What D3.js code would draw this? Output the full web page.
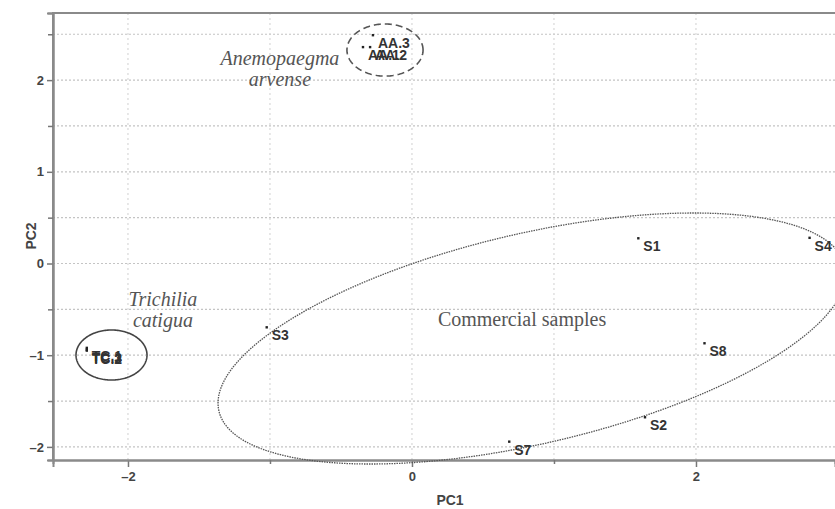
<!DOCTYPE html>
<html>
<head>
<meta charset="utf-8">
<script src="https://cdn.jsdelivr.net/npm/d3@7"></script>
<style>
  html, body { margin: 0; padding: 0; background: #fff; }
  svg { display: block; }
</style>
</head>
<body>
<svg id="chart" width="835" height="509"></svg>
<script>
// PCA scores (PC1, PC2) for each sample
const sampleNames = ["AA.1", "AA.2", "AA.3", "TC.1", "TC.2", "TC.3",
                     "S1", "S2", "S3", "S4", "S7", "S8"];
const pc1Scores = [-0.345, -0.295, -0.275, -2.29, -2.29, -2.29,
                   1.594, 1.641, -1.023, 2.80, 0.685, 2.06];
const pc2Scores = [2.36, 2.36, 2.49, -0.92, -0.95, -0.94,
                   0.275, -1.677, -0.696, 0.28, -1.943, -0.87];

// Axis ticks
const xMajorTicks = [-2, 0, 2];
const xMinorTicks = [-1, 1];
const yMajorTicks = [-2, -1, 0, 1, 2];
const yMinorTicks = [-1.5, -0.5, 0.5, 1.5, 2.5];
const xGridValues = [-2, -1, 0, 1, 2];
const yGridValues = [-2, -1.5, -1, -0.5, 0, 0.5, 1, 1.5, 2, 2.5];

// Group ellipses: centre, spread in PC1/PC2 units and correlation
const groupNames = ["Anemopaegma", "Trichilia", "Commercial"];
const groupCentreX = [-0.19, -2.116, 0.845];
const groupCentreY = [2.328, -0.998, -0.818];
const groupSpreadX = [0.268, 0.25, 2.211];
const groupSpreadY = [0.284, 0.273, 1.369];
const groupCorr = [0, 0, 0.515];

// Group captions (lines of text with their anchor in data units)
const captionLines = [["Anemopaegma", "arvense"], ["Trichilia", "catigua"], ["Commercial samples"]];
const captionX = [-0.93, -1.754, 0.775];
const captionY = [2.165, -0.463, -0.68];
const captionItalic = [true, true, false];

const svg = d3.select("#chart");
const x = d3.scaleLinear().domain([-2.528, 2.979]).range([53, 835]);
const y = d3.scaleLinear().domain([-2.143, 2.732]).range([460, 13]);

// Grid
const grid = svg.append("g");
grid.selectAll("line.h").data(yGridValues).join("line")
  .attr("x1", x.range()[0]).attr("x2", x.range()[1])
  .attr("y1", d => y(d)).attr("y2", d => y(d))
  .attr("stroke", "#c4c4c4").attr("stroke-width", 1.2)
  .attr("stroke-dasharray", "2,2");
grid.selectAll("line.v").data(xGridValues).join("line")
  .attr("y1", y.range()[0]).attr("y2", y.range()[1])
  .attr("x1", d => x(d)).attr("x2", d => x(d))
  .attr("stroke", "#d0d0d0").attr("stroke-width", 1)
  .attr("stroke-dasharray", "2,3");

// Frame: left, top and bottom lines
const frame = svg.append("g").attr("stroke", "#8a8a8a").attr("stroke-width", 2).attr("fill", "none");
frame.append("line").attr("x1", x.range()[0]).attr("x2", x.range()[0]).attr("y1", y.range()[0]).attr("y2", y.range()[1]);
frame.append("line").attr("x1", x.range()[0] - 1).attr("x2", x.range()[1]).attr("y1", y.range()[1]).attr("y2", y.range()[1]);

// Axes
const xAxis = svg.append("g").attr("transform", `translate(0,${y.range()[0]})`)
  .call(d3.axisBottom(x).tickValues(xMajorTicks).tickSize(7).tickPadding(5)
    .tickFormat(d => d < 0 ? "\u2013" + Math.abs(d) : d));
const xMinor = svg.append("g").attr("transform", `translate(0,${y.range()[0]})`)
  .call(d3.axisBottom(x).tickValues(xMinorTicks).tickSize(4).tickFormat(""));
const yAxis = svg.append("g").attr("transform", `translate(${x.range()[0]},0)`)
  .call(d3.axisLeft(y).tickValues(yMajorTicks).tickSize(6).tickPadding(3)
    .tickFormat(d => d < 0 ? "\u2013" + Math.abs(d) : d));
const yMinor = svg.append("g").attr("transform", `translate(${x.range()[0]},0)`)
  .call(d3.axisLeft(y).tickValues(yMinorTicks).tickSize(5).tickFormat(""));

[xAxis, xMinor, yAxis, yMinor].forEach(g => {
  g.select(".domain").attr("stroke", "#8a8a8a").attr("stroke-width", 2);
  g.selectAll(".tick line").attr("stroke", "#777").attr("stroke-width", 1.5);
  g.selectAll(".tick text")
    .attr("font-family", "'Liberation Sans', Arial, sans-serif")
    .attr("font-size", 13).attr("font-weight", "bold").attr("fill", "#444");
});

// Axis titles
svg.append("text").attr("x", 450).attr("y", 505)
  .attr("text-anchor", "middle")
  .attr("font-family", "'Liberation Sans', Arial, sans-serif")
  .attr("font-size", 14).attr("font-weight", "bold").attr("fill", "#444")
  .text("PC1");
svg.append("text")
  .attr("transform", `translate(36,${y(0.3)}) rotate(-90)`)
  .attr("text-anchor", "middle")
  .attr("font-family", "'Liberation Sans', Arial, sans-serif")
  .attr("font-size", 14).attr("font-weight", "bold").attr("fill", "#444")
  .text("PC2");

// Ellipses
function ellipsePath(i) {
  const pts = d3.range(0, 361, 2).map(deg => {
    const t = deg * Math.PI / 180;
    const r = groupCorr[i];
    const px = groupCentreX[i] + groupSpreadX[i] * Math.cos(t);
    const py = groupCentreY[i] + groupSpreadY[i] * (r * Math.cos(t) + Math.sqrt(1 - r * r) * Math.sin(t));
    return [x(px), y(py)];
  });
  return d3.line()(pts) + "Z";
}
const ellipseStyles = [
  { stroke: "#555", width: 1.6, dash: "7,4" },
  { stroke: "#444", width: 1.6, dash: null },
  { stroke: "#555", width: 1.3, dash: "1.5,1" }
];
groupNames.forEach((g, i) => {
  svg.append("path").attr("d", ellipsePath(i))
    .attr("fill", "none")
    .attr("stroke", ellipseStyles[i].stroke)
    .attr("stroke-width", ellipseStyles[i].width)
    .attr("stroke-dasharray", ellipseStyles[i].dash);
});

// Captions
captionLines.forEach((lines, i) => {
  const t = svg.append("text")
    .attr("x", x(captionX[i])).attr("y", y(captionY[i]))
    .attr("text-anchor", "middle")
    .attr("font-family", "'Liberation Serif', 'Times New Roman', serif")
    .attr("font-size", 20)
    .attr("font-style", captionItalic[i] ? "italic" : "normal")
    .attr("fill", "#555");
  lines.forEach((l, k) => {
    t.append("tspan").attr("x", x(captionX[i])).attr("dy", k === 0 ? 0 : 21.5).text(l);
  });
});

// Sample points and labels
const samples = sampleNames.map((n, i) => ({ name: n, pc1: pc1Scores[i], pc2: pc2Scores[i] }));
const pts = svg.append("g");
pts.selectAll("rect").data(samples).join("rect")
  .attr("x", d => x(d.pc1) - 1.2).attr("y", d => y(d.pc2) - 1.2)
  .attr("width", 2.4).attr("height", 2.4).attr("fill", "#222");
pts.selectAll("text").data(samples).join("text")
  .attr("x", d => x(d.pc1) + 5).attr("y", d => y(d.pc2) + 13)
  .attr("font-family", "'Liberation Sans', Arial, sans-serif")
  .attr("font-size", 14).attr("font-weight", "bold").attr("fill", "#333")
  .text(d => d.name);
</script>
</body>
</html>
